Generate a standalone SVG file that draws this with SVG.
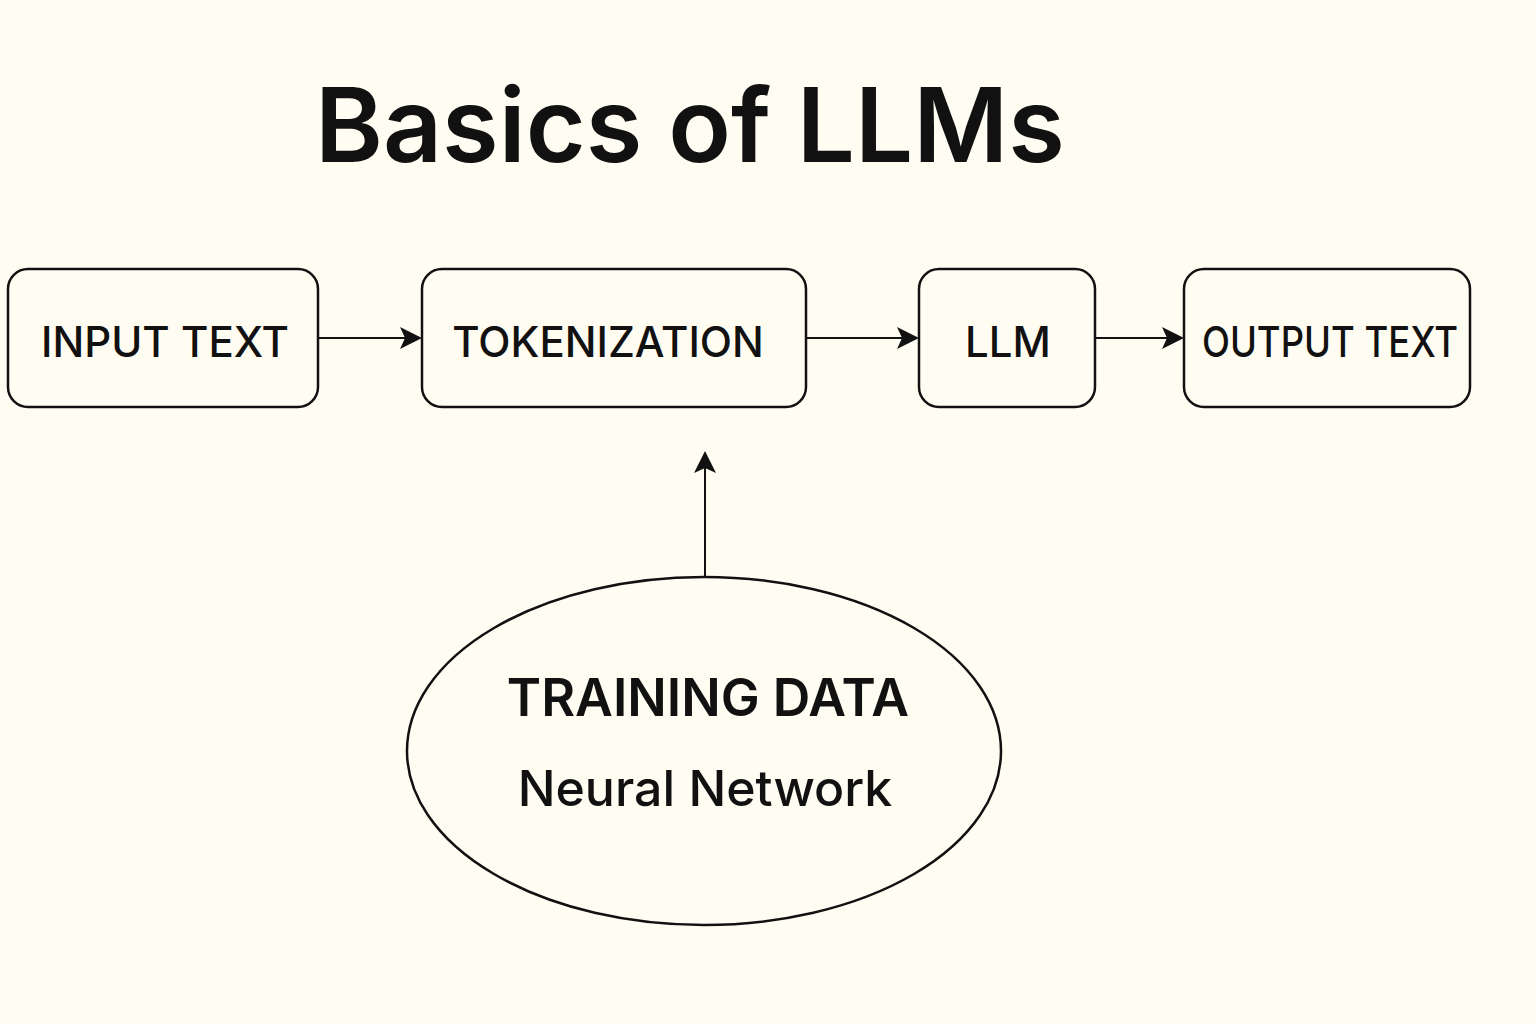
<svg xmlns="http://www.w3.org/2000/svg" width="1536" height="1024" viewBox="0 0 1536 1024">
<defs>
<style>
.box{fill:#fffdf2;stroke:#111;stroke-width:2.5}
.lbl{font-family:"Inter","Liberation Sans",sans-serif;font-weight:500;font-size:42px;fill:#111;text-anchor:middle}
.con{stroke:#111;stroke-width:2;fill:none}
</style>
<marker id="ah" markerWidth="22" markerHeight="22" refX="20" refY="11" orient="auto" markerUnits="userSpaceOnUse" viewBox="0 0 22 22"><path d="M0,0 L22,11 L0,22 L5,11 Z" fill="#111"/></marker>
</defs>
<rect width="1536" height="1024" fill="#fffdf2"/>
<text x="690" y="162" font-family="Inter,'Liberation Sans',sans-serif" font-weight="600" font-size="103" text-anchor="middle" fill="#111">Basics of LLMs</text>
<g id="input"><rect class="box" x="8" y="269" width="310" height="138" rx="20"/><text class="lbl" x="165" y="357">INPUT TEXT</text></g>
<g id="tokenization"><rect class="box" x="422" y="269" width="384" height="138" rx="20"/><text class="lbl" x="608" y="357">TOKENIZATION</text></g>
<g id="llm"><rect class="box" x="919" y="269" width="176" height="138" rx="20"/><text class="lbl" x="1008" y="357">LLM</text></g>
<g id="output"><rect class="box" x="1184" y="269" width="286" height="138" rx="20"/><text class="lbl" x="1330" y="357" textLength="256" lengthAdjust="spacingAndGlyphs">OUTPUT TEXT</text></g>
<g id="training"><ellipse class="box" cx="704" cy="751" rx="297" ry="174"/>
<text class="lbl" x="708" y="716" style="font-size:52px;font-weight:600">TRAINING DATA</text>
<text class="lbl" x="705" y="806" style="font-size:50px">Neural Network</text></g>
<g id="connectors">
<line class="con" x1="318" y1="338" x2="420" y2="338" marker-end="url(#ah)"/>
<line class="con" x1="806" y1="338" x2="917" y2="338" marker-end="url(#ah)"/>
<line class="con" x1="1095" y1="338" x2="1182" y2="338" marker-end="url(#ah)"/>
<line class="con" x1="705" y1="577" x2="705" y2="453" marker-end="url(#ah)"/>
</g>
</svg>
